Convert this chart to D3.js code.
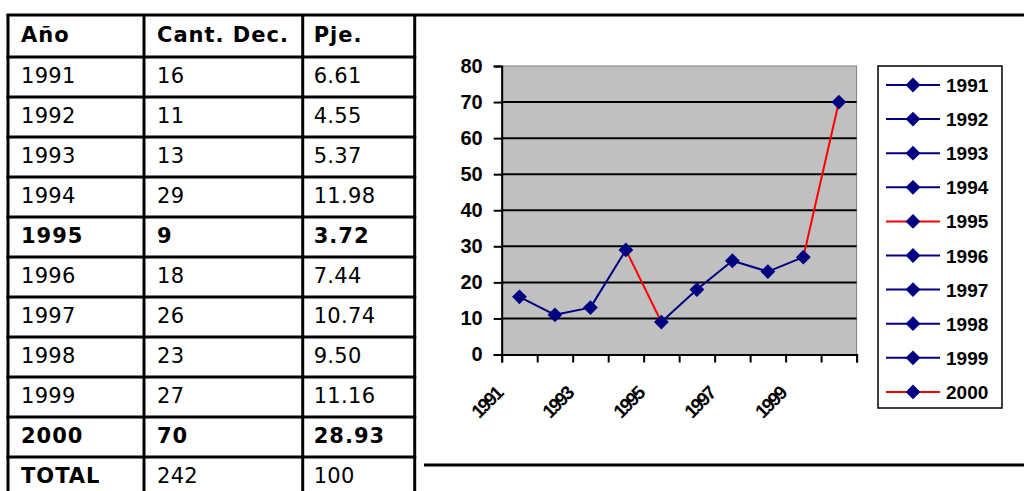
<!DOCTYPE html>
<html>
<head>
<meta charset="utf-8">
<script src="https://cdn.jsdelivr.net/npm/d3@7"></script>
<style>
  body { margin: 0; background: #fff; }
  svg { display: block; }
  .cell { font-family: "DejaVu Sans", Verdana, sans-serif; font-size: 21px; letter-spacing: 0.3px; fill: #000; }
  .bold { font-weight: bold; letter-spacing: 1px; }
  .chart text { font-family: "Liberation Sans", Arial, sans-serif; font-weight: bold; fill: #000; }
</style>
</head>
<body>
<div id="chart"></div>
<script>
// data
var headers = ["Año", "Cant. Dec.", "Pje."];
var years = ["1991", "1992", "1993", "1994", "1995", "1996", "1997", "1998", "1999", "2000"];
var cantDec = [16, 11, 13, 29, 9, 18, 26, 23, 27, 70];
var pje = ["6.61", "4.55", "5.37", "11.98", "3.72", "7.44", "10.74", "9.50", "11.16", "28.93"];
var highlight = ["1995", "2000"];
var totalRow = ["TOTAL", "242", "100"];
var yTicks = [0, 10, 20, 30, 40, 50, 60, 70, 80];
var xLabels = ["1991", "1993", "1995", "1997", "1999"];

var W = 1024, H = 491;
var navy = "#000080", red = "#ff0000";

var svg = d3.select("#chart").append("svg")
  .attr("width", W)
  .attr("height", H);

// ---------- table ----------
var colX = [8, 144, 302.7, 414.7];
var top0 = 15, headH = 42, rowH = 40;

var rows = [headers].concat(years.map(function (y, i) {
  return [y, String(cantDec[i]), pje[i]];
})).concat([totalRow]);

var rowTop = function (r) { return r == 0 ? top0 : top0 + headH + (r - 1) * rowH; };

var table = svg.append("g").attr("class", "table");

rows.forEach(function (row, r) {
  var bold = r == 0 || highlight.indexOf(row[0]) >= 0;
  row.forEach(function (txt, c) {
    var isBold = bold || (r == rows.length - 1 && c == 0);
    table.append("text")
      .attr("class", "cell" + (isBold ? " bold" : ""))
      .attr("x", colX[c] + (c == 2 ? 11 : 13))
      .attr("y", rowTop(r) + (r == 0 ? 27 : 26))
      .text(txt);
  });
});

// horizontal lines
for (var r = 0; r < rows.length; r++) {
  table.append("line")
    .attr("x1", colX[0] - 1.5)
    .attr("x2", r == 0 ? W : colX[3] + 1.5)
    .attr("y1", rowTop(r))
    .attr("y2", rowTop(r))
    .attr("stroke", "#000")
    .attr("stroke-width", 3);
}
// vertical lines
colX.forEach(function (x) {
  table.append("line")
    .attr("x1", x).attr("x2", x)
    .attr("y1", top0).attr("y2", H)
    .attr("stroke", "#000")
    .attr("stroke-width", 3);
});

// line under the chart
svg.append("line")
  .attr("x1", 424).attr("x2", W)
  .attr("y1", 465).attr("y2", 465)
  .attr("stroke", "#000")
  .attr("stroke-width", 3);

// ---------- chart ----------
var chart = svg.append("g").attr("class", "chart");

var x = d3.scaleBand().domain(years).range([501.7, 856.6]);
var xi = d3.scaleLinear().domain([0, years.length]).range(x.range());
var y = d3.scaleLinear().domain([0, 80]).range([354.5, 66]);

// plot area
chart.append("rect")
  .attr("x", x.range()[0])
  .attr("y", y(80))
  .attr("width", x.range()[1] - x.range()[0])
  .attr("height", y(0) - y(80))
  .attr("fill", "#c0c0c0")
  .attr("stroke", "#808080")
  .attr("stroke-width", 1);

// gridlines
chart.append("g")
  .selectAll("line")
  .data(yTicks.filter(function (d) { return d > 0 && d < 80; }))
  .enter()
  .append("line")
  .attr("x1", x.range()[0])
  .attr("x2", x.range()[1])
  .attr("y1", function (d) { return y(d); })
  .attr("y2", function (d) { return y(d); })
  .attr("stroke", "#000")
  .attr("stroke-width", 2);

// y axis
var yAxis = chart.append("g")
  .attr("transform", "translate(" + x.range()[0] + ",0)")
  .call(d3.axisLeft(y).tickValues(yTicks).tickSize(8).tickPadding(11));
yAxis.select(".domain").attr("stroke", "#000").attr("stroke-width", 2);
yAxis.selectAll(".tick line").attr("stroke", "#000").attr("stroke-width", 2);
yAxis.selectAll("text")
  .style("font-size", "20px")
  .attr("fill", "#000");

// x axis (ticks between categories)
var xAxis = chart.append("g")
  .attr("transform", "translate(0," + y(0) + ")")
  .call(d3.axisBottom(xi).ticks(years.length).tickSize(8).tickFormat(""));
xAxis.select(".domain").attr("stroke", "#000").attr("stroke-width", 2);
xAxis.selectAll(".tick line").attr("stroke", "#000").attr("stroke-width", 2);

chart.append("g")
  .selectAll("text")
  .data(xLabels)
  .enter()
  .append("text")
  .attr("transform", function (d) {
    return "translate(" + (x(d) + x.bandwidth() / 2 - 16) + ",395) rotate(-45)";
  })
  .attr("text-anchor", "end")
  .style("font-size", "19px")
  .style("letter-spacing", "-2px")
  .text(function (d) { return d; });

// series segments
var cx = function (d) { return x(d) + x.bandwidth() / 2; };
chart.append("g")
  .selectAll("line")
  .data(years.slice(1))
  .enter()
  .append("line")
  .attr("x1", function (d, i) { return cx(years[i]); })
  .attr("y1", function (d, i) { return y(cantDec[i]); })
  .attr("x2", function (d) { return cx(d); })
  .attr("y2", function (d, i) { return y(cantDec[i + 1]); })
  .attr("stroke", function (d) { return highlight.indexOf(d) >= 0 ? red : navy; })
  .attr("stroke-width", 2);

var diamond = d3.symbol().type(d3.symbolSquare).size(110);
chart.append("g")
  .selectAll("path")
  .data(years)
  .enter()
  .append("path")
  .attr("d", diamond)
  .attr("transform", function (d, i) {
    return "translate(" + cx(d) + "," + y(cantDec[i]) + ") rotate(45)";
  })
  .attr("fill", navy);

// legend
var legend = chart.append("g");
legend.append("rect")
  .attr("x", 878)
  .attr("y", 66)
  .attr("width", 124)
  .attr("height", 342)
  .attr("fill", "#fff")
  .attr("stroke", "#000")
  .attr("stroke-width", 1.5);

var item = legend.selectAll("g.item")
  .data(years)
  .enter()
  .append("g")
  .attr("class", "item")
  .attr("transform", function (d, i) { return "translate(0," + (85 + i * 34.1) + ")"; });

item.append("line")
  .attr("x1", 886).attr("x2", 940)
  .attr("stroke", function (d) { return highlight.indexOf(d) >= 0 ? red : navy; })
  .attr("stroke-width", 2);
item.append("path")
  .attr("d", diamond)
  .attr("transform", "translate(913,0) rotate(45)")
  .attr("fill", navy);
item.append("text")
  .attr("x", 946)
  .attr("y", 7)
  .style("font-size", "19px")
  .text(function (d) { return d; });
</script>
</body>
</html>
